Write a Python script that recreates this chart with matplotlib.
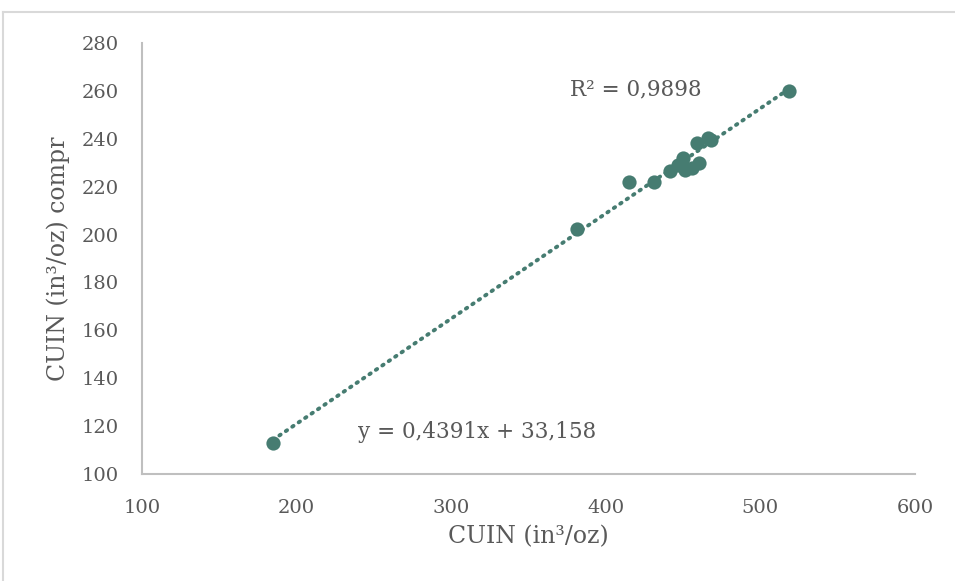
import matplotlib
matplotlib.use("Agg")
import matplotlib.pyplot as plt
from matplotlib.lines import Line2D
import numpy as np

# Measured volumes: free CUIN vs. compressed CUIN
cuin = [184.7, 381.4, 415.0, 431.2, 441.5, 446.7, 449.9, 451.2, 455.8,
        460.3, 459.0, 466.1, 468.0, 518.5]
cuin_compr = [112.9, 202.3, 222.0, 222.0, 226.6, 229.1, 232.0, 227.0, 227.8,
              229.9, 238.3, 240.3, 239.5, 260.0]

# Linear trend line coefficients
slope = 0.4391
intercept = 33.158
r_squared = "0,9898"

x_ticks = [100, 200, 300, 400, 500, 600]
y_ticks = [100, 120, 140, 160, 180, 200, 220, 240, 260, 280]

point_color = "#467C71"
text_color = "#595959"
axis_color = "#BFBFBF"

plt.rcParams["font.family"] = ["DejaVu Serif"]

fig = plt.figure(figsize=(9.55, 5.81), dpi=100)
ax = fig.add_axes([142 / 955, 1 - 474 / 581, (915 - 142) / 955, (474 - 43) / 581])

ax.scatter(cuin, cuin_compr, s=105, color=point_color, zorder=3, linewidths=0)

xs = np.array([min(cuin), max(cuin)])
ax.plot(xs, slope * xs + intercept, color=point_color, linewidth=2.8,
        linestyle=(0, (0.4, 1.6)), dash_capstyle="round", zorder=2)

ax.set_xlim(100, 600)
ax.set_ylim(100, 280)
ax.set_xticks(x_ticks)
ax.set_yticks(y_ticks)
ax.tick_params(length=0, labelsize=14, colors=text_color)
ax.tick_params(axis="y", pad=17)
ax.tick_params(axis="x", pad=18)

for side in ("top", "right"):
    ax.spines[side].set_visible(False)
for side in ("left", "bottom"):
    ax.spines[side].set_color(axis_color)
    ax.spines[side].set_linewidth(1.5)

ax.set_xlabel("CUIN (in³/oz)", fontsize=17, color=text_color, labelpad=6)
ax.set_ylabel("CUIN (in³/oz) compr", fontsize=17, color=text_color, labelpad=8)

fig.text(570 / 955, 1 - 89 / 581, f"R² = {r_squared}", fontsize=15.5,
         color=text_color, va="center", ha="left")
fig.text(358 / 955, 1 - 432 / 581,
         f"y = {str(slope).replace('.', ',')}x + {str(intercept).replace('.', ',')}",
         fontsize=15.5, color=text_color, va="center", ha="left")

# Light chart-area frame
frame_color = "#D9D9D9"
fig.add_artist(Line2D([3 / 955, 1], [1 - 12 / 581, 1 - 12 / 581],
                      transform=fig.transFigure, color=frame_color, linewidth=1.5))
fig.add_artist(Line2D([3 / 955, 3 / 955], [0, 1 - 12 / 581],
                      transform=fig.transFigure, color=frame_color, linewidth=1.5))

fig.savefig("out.png", dpi=100, facecolor="white")
